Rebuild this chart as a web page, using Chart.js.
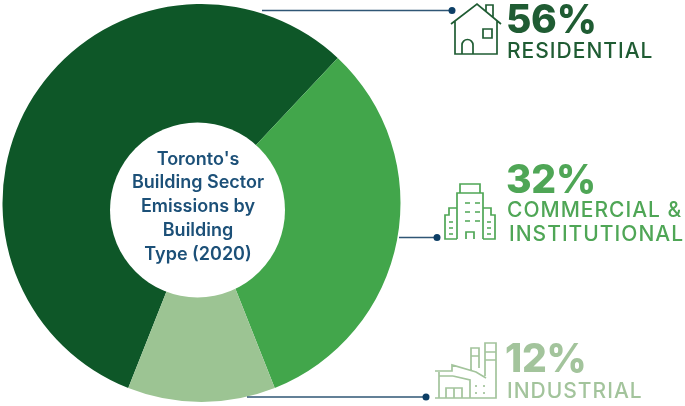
<!DOCTYPE html>
<html>
<head>
<meta charset="utf-8">
<script src="https://cdn.jsdelivr.net/npm/chart.js@4"></script>
<style>
html, body { margin: 0; padding: 0; background: #fff; }
#wrap { position: relative; width: 685px; height: 406px; overflow: hidden; }
</style>
</head>
<body>
<div id="wrap"><canvas id="myChart" width="685" height="406"></canvas></div>
<script>
const categories = ['RESIDENTIAL', 'COMMERCIAL & INSTITUTIONAL', 'INDUSTRIAL'];
const values = [56, 32, 12];
const sliceColors = ['#0e5728', '#42a64b', '#9cc493'];
const labelColors = ['#1f5c33', '#4fa656', '#a3c49c'];
const titleLines = ["Toronto's", 'Building Sector', 'Emissions by', 'Building', 'Type (2020)'];

const FONT = 'Inter, "Open Sans", sans-serif';
const NAVY = '#0d3f66';

// line icons, page pixels
const icons = [
    'M451 24 L477 4 L501 24 M455 21 V54 H497 V21 M462 54 V45 A5.5 5.5 0 0 1 473 45 V54 M483 29 H492 V38 H483 Z M486 11 V5 H493 V17',
    'M460 193 V184 H480 V193 M457 239 V193 H483 V239 M457 208 H449 V215 H445 V239 H457 M483 208 H491 V215 H495 V239 H483 M465 203 H470 M475 203 H480 M465 212 H470 M475 212 H480 M465 221 H470 M475 221 H480 M466 239 V232 H474 V239 M449 222 H453 M449 228 H453 M449 234 H453 M487 222 H491 M487 228 H491 M487 234 H491',
    'M435 398 H496 V343 H485 V376 M496 352 H485 M496 360 H485 M479 368 V348 H471 V370 M471 356 H479 M439 398 V372 M435 371 H452 V365 L476 372 L486 378 M453 376 L470 380 V398 M439 376 H453 M446 398 V388 H462 V398 M454 388 V398 M476 385 V387 M484 385 V387 M476 392 V394 M484 392 V394'
];

const labelPlugin = {
    id: 'labels',
    afterDraw(chart) {
        const ctx = chart.ctx;
        ctx.save();

        // the hole sits a little off the ring's centre in the original
        ctx.fillStyle = '#fff';
        ctx.beginPath();
        ctx.arc(197.5, 210, 87.5, 0, Math.PI * 2);
        ctx.fill();

        // centre title
        ctx.fillStyle = '#1c5078';
        ctx.textAlign = 'center';
        ctx.textBaseline = 'alphabetic';
        ctx.font = '600 18px ' + FONT;
        const titleY = [165, 188, 212, 236, 260];
        titleLines.forEach((t, i) => ctx.fillText(t, 198, titleY[i]));

        // leader lines
        const leaders = [[262, 10.5, 452, 10.5], [399, 237.5, 437, 237.5], [247, 397, 426, 397]];
        leaders.forEach(l => {
            ctx.strokeStyle = '#2f5675';
            ctx.lineWidth = 1.5;
            ctx.beginPath();
            ctx.moveTo(l[0], l[1]);
            ctx.lineTo(l[2], l[3]);
            ctx.stroke();
            ctx.fillStyle = NAVY;
            ctx.beginPath();
            ctx.arc(l[2], l[3], 3.5, 0, Math.PI * 2);
            ctx.fill();
        });

        // icons
        ctx.lineWidth = 1.7;
        icons.forEach((p, i) => {
            ctx.strokeStyle = labelColors[i];
            ctx.stroke(new Path2D(p));
        });

        // percent + name
        ctx.textAlign = 'left';
        const pctPos = [[506, 33], [506, 193], [505, 372]];
        values.forEach((v, i) => {
            ctx.fillStyle = labelColors[i];
            ctx.font = '800 39px ' + FONT;
            ctx.letterSpacing = '-0.3px';
            ctx.fillText(v + '%', pctPos[i][0], pctPos[i][1]);
        });
        ctx.font = '500 21px ' + FONT;
        ctx.letterSpacing = '1px';
        ctx.fillStyle = labelColors[0];
        ctx.fillText(categories[0], 507, 58);
        ctx.fillStyle = labelColors[1];
        const parts = ['COMMERCIAL &', 'INSTITUTIONAL'];
        ctx.fillText(parts[0], 507, 217);
        ctx.fillText(parts[1], 509, 241);
        ctx.fillStyle = labelColors[2];
        ctx.fillText(categories[2], 507, 398);
        ctx.restore();
    }
};

new Chart(document.getElementById('myChart'), {
    type: 'doughnut',
    data: {
        labels: categories,
        datasets: [{
            data: values,
            backgroundColor: sliceColors,
            borderWidth: 0
        }]
    },
    options: {
        responsive: false,
        animation: false,
        rotation: 201.6,
        cutout: '39%',
        layout: { padding: { left: 2.5, right: 284.5, top: 4, bottom: 4 } },
        plugins: { legend: { display: false }, tooltip: { enabled: false } }
    },
    plugins: [labelPlugin]
});
</script>
</body>
</html>
